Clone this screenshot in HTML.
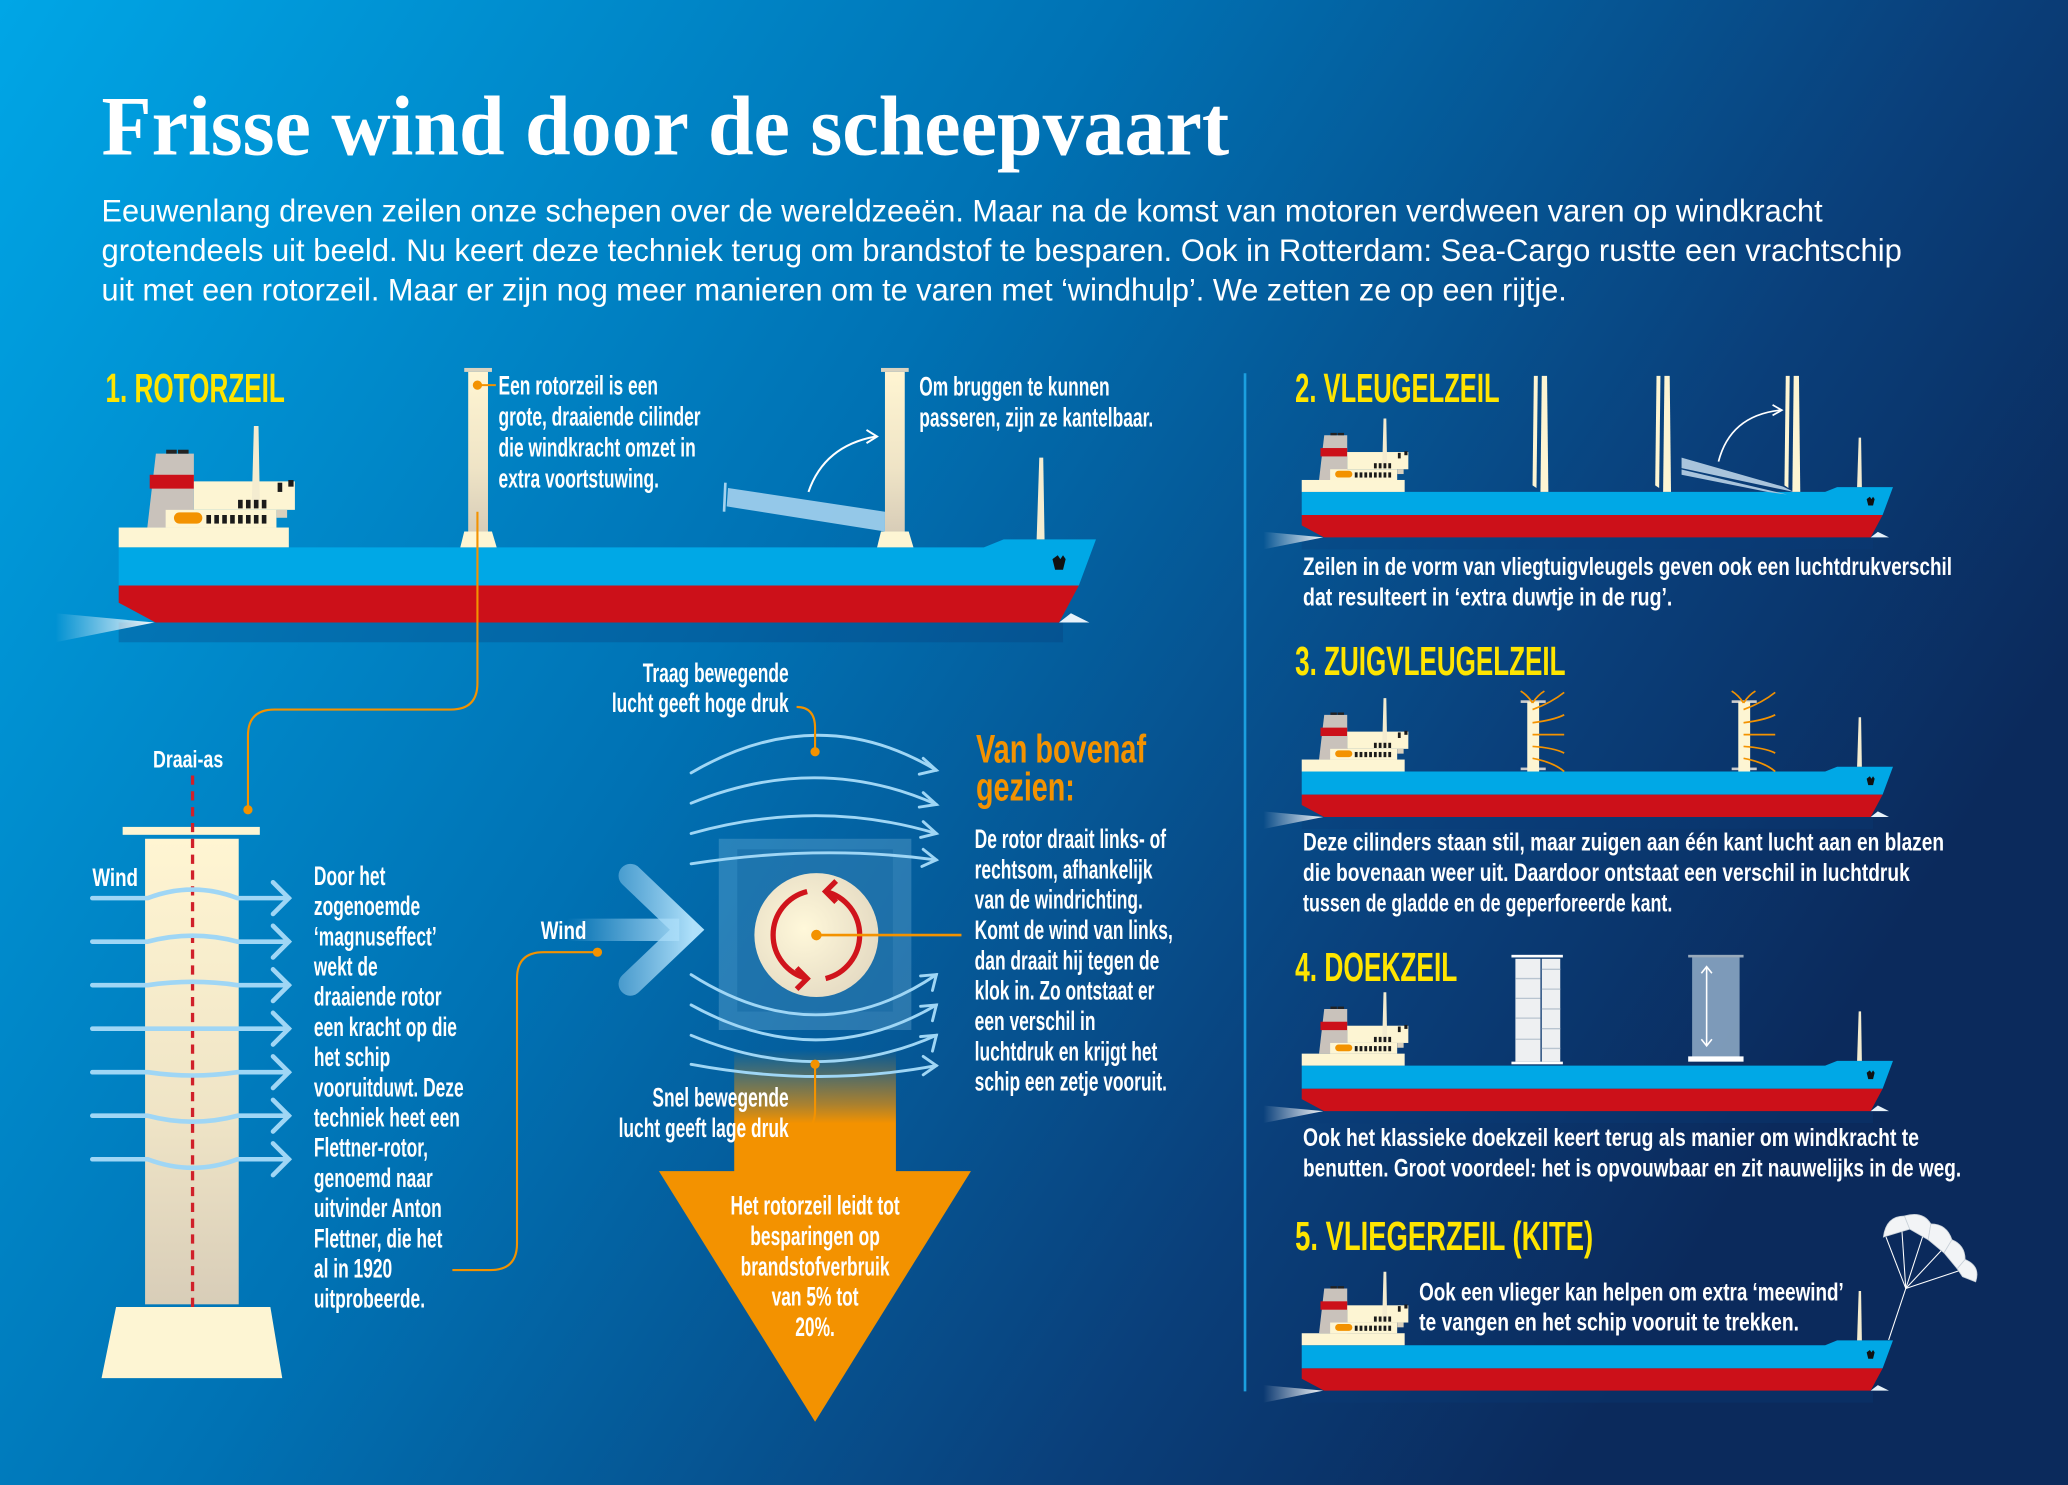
<!DOCTYPE html>
<html><head><meta charset="utf-8"><style>
html,body{margin:0;padding:0;background:#0a4a8a;}
svg{display:block}
text{font-family:"Liberation Sans",sans-serif;fill:#fff}
.b{font-weight:bold}
.y{fill:#ffe500;font-weight:bold}
.o{fill:#f39200;font-weight:bold}
</style></head><body>
<svg width="2068" height="1485" viewBox="0 0 1568 1126" preserveAspectRatio="none" xmlns="http://www.w3.org/2000/svg">
<defs>
<linearGradient id="bg" x1="0" y1="0" x2="1" y2="0.45">
<stop offset="0" stop-color="#00a6e6"/><stop offset="0.45" stop-color="#0072b4"/><stop offset="0.8" stop-color="#0a3f7a"/><stop offset="1" stop-color="#0b2a5c"/>
</linearGradient>
<linearGradient id="cyl" x1="0" y1="0" x2="0" y2="1"><stop offset="0" stop-color="#fff5d2"/><stop offset="0.6" stop-color="#efe4c6"/><stop offset="1" stop-color="#d8cdb8"/></linearGradient>
<linearGradient id="wake" x1="1" y1="0" x2="0" y2="0"><stop offset="0" stop-color="#fff" stop-opacity="0.95"/><stop offset="1" stop-color="#fff" stop-opacity="0"/></linearGradient>
<linearGradient id="arr" x1="0" y1="0" x2="0" y2="1"><stop offset="0" stop-color="#f39200" stop-opacity="0"/><stop offset="0.45" stop-color="#f39200" stop-opacity="0.7"/><stop offset="0.6" stop-color="#f39200"/><stop offset="1" stop-color="#f39200"/></linearGradient>
<linearGradient id="chev" gradientUnits="userSpaceOnUse" x1="430" y1="0" x2="525" y2="0"><stop offset="0" stop-color="#9dd3f3" stop-opacity="0"/><stop offset="0.5" stop-color="#9dd3f3" stop-opacity="0.55"/><stop offset="1" stop-color="#aee0fa"/></linearGradient>
<radialGradient id="disc" cx="0.4" cy="0.45" r="0.6"><stop offset="0" stop-color="#fff8da"/><stop offset="1" stop-color="#e6dcc4"/></radialGradient>
<g id="ship">
<rect x="0" y="57" width="716" height="15" fill="#0a3d78" opacity="0.3"/>
<polygon points="27,57 -48,50 -48,72" fill="url(#wake)"/>
<path d="M0,0 H656 L671,-6 H741 L728,29 H0 Z" fill="#00a8e6"/>
<path d="M0,29 H728 L713,57 H28 L0,42 Z" fill="#cc1019"/>
<path d="M713,57 L722,50 L736,57 Z" fill="#e8f2fa"/>
<path d="M708,9 l4,-3 2,3 2,-3 2,3 -2,8 -6,0 Z" fill="#111"/>
<rect x="0" y="-15" width="129" height="15" fill="#fdf5d3"/>
<polygon points="21.7,-15 28.2,-71 57,-71 57,-15" fill="#c9c2bb"/>
<rect x="23.5" y="-55" width="33.5" height="10.5" fill="#cc1019"/>
<rect x="36" y="-74" width="8" height="3" fill="#222"/><rect x="45" y="-74" width="8" height="3" fill="#222"/>
<rect x="35.6" y="-28.4" width="84" height="13.5" fill="#fdf5d3"/>
<rect x="57" y="-50" width="76.6" height="21.6" fill="#fdf5d3"/>
<rect x="119.7" y="-28.4" width="8" height="6" fill="#d9d0bd"/>
<polygon points="100.8,-30 102.5,-92 106,-92 107.1,-30" fill="#f4ecd0"/>
<rect x="41.9" y="-26.5" width="21.5" height="8.5" rx="4.2" fill="#f39200"/>
<g fill="#1a1a1a">
<rect x="66.5" y="-24.5" width="3.5" height="6.5"/><rect x="72.5" y="-24.5" width="3.5" height="6.5"/><rect x="78.5" y="-24.5" width="3.5" height="6.5"/><rect x="84.5" y="-24.5" width="3.5" height="6.5"/><rect x="90.5" y="-24.5" width="3.5" height="6.5"/><rect x="96.5" y="-24.5" width="3.5" height="6.5"/><rect x="102.5" y="-24.5" width="3.5" height="6.5"/><rect x="108.5" y="-24.5" width="3.5" height="6.5"/>
<rect x="90.5" y="-36" width="3.5" height="6.5"/><rect x="96.5" y="-36" width="3.5" height="6.5"/><rect x="102.5" y="-36" width="3.5" height="6.5"/><rect x="108.5" y="-36" width="3.5" height="6.5"/>
<rect x="120.5" y="-49" width="3.5" height="7"/><rect x="128.6" y="-51" width="4" height="5"/>
</g>
<polygon points="696,-6 698,-68 701,-68 702,-6" fill="#f4ecd0"/>
</g>
</defs>
<rect width="1568" height="1126" fill="url(#bg)"/>

<!-- Title -->
<text x="77" y="117" font-family="Liberation Serif" font-weight="bold" font-size="64" textLength="855" lengthAdjust="spacingAndGlyphs" style="font-family:'Liberation Serif',serif">Frisse wind door de scheepvaart</text>
<g font-size="24">
<text x="77" y="168" textLength="1305" lengthAdjust="spacingAndGlyphs">Eeuwenlang dreven zeilen onze schepen over de wereldzeeën. Maar na de komst van motoren verdween varen op windkracht</text>
<text x="77" y="198" textLength="1365" lengthAdjust="spacingAndGlyphs">grotendeels uit beeld. Nu keert deze techniek terug om brandstof te besparen. Ook in Rotterdam: Sea-Cargo rustte een vrachtschip</text>
<text x="77" y="228" textLength="1111" lengthAdjust="spacingAndGlyphs">uit met een rotorzeil. Maar er zijn nog meer manieren om te varen met ‘windhulp’. We zetten ze op een rijtje.</text>
</g>

<!-- Section 1 -->
<text x="80" y="305" class="y" font-size="31" textLength="136" lengthAdjust="spacingAndGlyphs">1. ROTORZEIL</text>
<use href="#ship" transform="translate(90,415)"/>
<rect x="355" y="282" width="15" height="121" fill="url(#cyl)"/>
<rect x="352" y="279" width="21" height="3" fill="#d8d2c0"/>
<polygon points="352,403 373,403 376.6,415 349,415" fill="#fdf5d3"/>
<rect x="671" y="282" width="15" height="121" fill="url(#cyl)"/>
<rect x="668" y="279" width="21" height="3" fill="#d8d2c0"/>
<polygon points="668,403 689,403 692.6,415 665,415" fill="#fdf5d3"/>
<polygon points="552,370 671,388 671,403 551,384" fill="#a4d2ee" opacity="0.9"/>
<line x1="550" y1="366" x2="549" y2="388" stroke="#a4d2ee" stroke-width="2"/>
<path d="M613,373 Q625,338 664,331" fill="none" stroke="#fff" stroke-width="1.5"/>
<polyline points="657,326 665,331 657,336" fill="none" stroke="#fff" stroke-width="1.5"/>
<circle cx="362" cy="292" r="3.5" fill="#f39200"/><line x1="362" y1="292" x2="376" y2="292" stroke="#f39200" stroke-width="1.5"/>
<g font-size="20" class="b">
<g transform="translate(378,299) scale(0.66,1)"><text x="0" y="0" class="b">Een rotorzeil is een</text><text x="0" y="23.5" class="b">grote, draaiende cilinder</text><text x="0" y="47" class="b">die windkracht omzet in</text><text x="0" y="70.5" class="b">extra voortstuwing.</text></g>
<g transform="translate(697,300) scale(0.66,1)"><text x="0" y="0" class="b">Om bruggen te kunnen</text><text x="0" y="23.5" class="b">passeren, zijn ze kantelbaar.</text></g>
</g>
<path d="M362,388 V518 Q362,538 342,538 H208 Q188,538 188,558 V614" fill="none" stroke="#f39200" stroke-width="1.6"/>
<circle cx="188" cy="614" r="3.5" fill="#f39200"/>

<!-- left rotor detail -->
<rect x="93" y="627" width="104" height="6" fill="#fdf5d3"/>
<rect x="110" y="636" width="71" height="353" fill="url(#cyl)"/>
<polygon points="88,991 205,991 214,1045 77,1045" fill="#fdf5d3"/>
<line x1="146" y1="588" x2="146" y2="995" stroke="#d0202a" stroke-width="2.5" stroke-dasharray="7,5"/>
<text x="116" y="582" font-size="18" class="b" transform="translate(116,0) scale(0.75,1) translate(-116,0)">Draai-as</text>
<text x="70" y="672" font-size="19" class="b" transform="translate(70,0) scale(0.75,1) translate(-70,0)">Wind</text>
<g fill="none" stroke="#9fd6f5" stroke-width="3.5" stroke-linecap="round">
<path d="M70,681 H112 Q146,668 180,681 H219"/><polyline points="207,669 219,681 207,693"/>
<path d="M70,714 H112 Q146,705 180,714 H219"/><polyline points="207,702 219,714 207,726"/>
<path d="M70,747 H112 Q146,742 180,747 H219"/><polyline points="207,735 219,747 207,759"/>
<path d="M70,780 H219"/><polyline points="207,768 219,780 207,792"/>
<path d="M70,813 H112 Q146,818 180,813 H219"/><polyline points="207,801 219,813 207,825"/>
<path d="M70,846 H112 Q146,855 180,846 H219"/><polyline points="207,834 219,846 207,858"/>
<path d="M70,879 H112 Q146,892 180,879 H219"/><polyline points="207,867 219,879 207,891"/>
</g>
<g transform="translate(238,671) scale(0.66,1)" font-size="20">
<text x="0" y="0" class="b">Door het</text><text x="0" y="22.9" class="b">zogenoemde</text><text x="0" y="45.8" class="b">‘magnuseffect’</text><text x="0" y="68.7" class="b">wekt de</text><text x="0" y="91.6" class="b">draaiende rotor</text><text x="0" y="114.5" class="b">een kracht op die</text><text x="0" y="137.4" class="b">het schip</text><text x="0" y="160.3" class="b">vooruitduwt. Deze</text><text x="0" y="183.2" class="b">techniek heet een</text><text x="0" y="206.1" class="b">Flettner-rotor,</text><text x="0" y="229" class="b">genoemd naar</text><text x="0" y="251.9" class="b">uitvinder Anton</text><text x="0" y="274.8" class="b">Flettner, die het</text><text x="0" y="297.7" class="b">al in 1920</text><text x="0" y="320.6" class="b">uitprobeerde.</text>
</g>

<!-- middle diagram -->
<rect x="556.7" y="796" width="122.6" height="93" fill="url(#arr)"/>
<polygon points="499.6,888 736.2,888 618,1078" fill="#f39200"/>
<rect x="545" y="636" width="146" height="145" fill="#8fc7e6" opacity="0.28"/>
<rect x="559" y="644" width="118" height="123" fill="#0a5f9c" opacity="0.35"/>
<circle cx="619" cy="709" r="47" fill="url(#disc)"/>
<g fill="none" stroke="#d0141c" stroke-width="4">
<path d="M612,676 A34,34 0 0 0 612,742"/><polyline points="604,734 612,742 604,750"/>
<path d="M626,742 A34,34 0 0 0 626,676"/><polyline points="634,668 626,676 634,684"/>
</g>
<line x1="619" y1="709" x2="729" y2="709" stroke="#f39200" stroke-width="2"/>
<circle cx="619" cy="709" r="4" fill="#f39200"/>
<g fill="none" stroke="#9fd6f5" stroke-width="2.2" stroke-linecap="round">
<path d="M524,586 Q620,530 710,584"/><polyline points="700,575 710,584 697,587"/>
<path d="M524,609 Q620,570 710,610"/><polyline points="700,601 710,610 697,612"/>
<path d="M524,632 Q620,605 710,632"/><polyline points="700,623 710,632 698,635"/>
<path d="M524,655 Q620,640 710,652"/><polyline points="700,644 710,652 699,657"/>
<path d="M524,739 Q620,800 710,739"/><polyline points="698,740 710,739 707,751"/>
<path d="M524,762 Q620,815 710,762"/><polyline points="698,763 710,762 707,774"/>
<path d="M524,785 Q620,825 710,785"/><polyline points="698,786 710,785 707,797"/>
<path d="M524,807 Q620,825 710,808"/><polyline points="700,801 710,808 700,815"/>
</g>
<line x1="430" y1="705" x2="515" y2="705" stroke="url(#chev)" stroke-width="17"/>
<polyline points="478,664 521,705 478,746" fill="none" stroke="url(#chev)" stroke-width="18" stroke-linecap="round" stroke-linejoin="miter"/>
<text x="410" y="712" font-size="19" class="b" transform="translate(410,0) scale(0.75,1) translate(-410,0)">Wind</text>
<path d="M453,722 H412 Q392,722 392,742 V943 Q392,963 372,963 H343" fill="none" stroke="#f39200" stroke-width="1.6"/>
<circle cx="453" cy="722" r="3.5" fill="#f39200"/>
<path d="M618,570 V552 Q618,536 604,536" fill="none" stroke="#f39200" stroke-width="1.6"/><circle cx="618" cy="570" r="3.5" fill="#f39200"/>
<path d="M618,807 V842 Q618,858 604,858" fill="none" stroke="#f39200" stroke-width="1.6"/><circle cx="618" cy="807" r="3.5" fill="#f39200"/>
<g font-size="20">
<g transform="translate(598,517) scale(0.66,1)"><text x="0" y="0" text-anchor="end" class="b">Traag bewegende</text><text x="0" y="23" text-anchor="end" class="b">lucht geeft hoge druk</text></g>
<g transform="translate(598,839) scale(0.66,1)"><text x="0" y="0" text-anchor="end" class="b">Snel bewegende</text><text x="0" y="23" text-anchor="end" class="b">lucht geeft lage druk</text></g>
<g transform="translate(618,921) scale(0.66,1)"><text x="0" y="0" text-anchor="middle" class="b">Het rotorzeil leidt tot</text><text x="0" y="23" text-anchor="middle" class="b">besparingen op</text><text x="0" y="46" text-anchor="middle" class="b">brandstofverbruik</text><text x="0" y="69" text-anchor="middle" class="b">van 5% tot</text><text x="0" y="92" text-anchor="middle" class="b">20%.</text></g>
<g transform="translate(739,643) scale(0.66,1)"><text x="0" y="0" class="b">De rotor draait links- of</text><text x="0" y="23" class="b">rechtsom, afhankelijk</text><text x="0" y="46" class="b">van de windrichting.</text><text x="0" y="69" class="b">Komt de wind van links,</text><text x="0" y="92" class="b">dan draait hij tegen de</text><text x="0" y="115" class="b">klok in. Zo ontstaat er</text><text x="0" y="138" class="b">een verschil in</text><text x="0" y="161" class="b">luchtdruk en krijgt het</text><text x="0" y="184" class="b">schip een zetje vooruit.</text></g>
</g>
<text x="740" y="578" class="o" font-size="30" textLength="129" lengthAdjust="spacingAndGlyphs">Van bovenaf</text>
<text x="740" y="607" class="o" font-size="30" textLength="75" lengthAdjust="spacingAndGlyphs">gezien:</text>

<line x1="944" y1="283" x2="944" y2="1055" stroke="#1ba0e0" stroke-width="2"/>

<!-- Section 2 -->
<text x="982" y="305" class="y" font-size="31" textLength="155" lengthAdjust="spacingAndGlyphs">2. VLEUGELZEIL</text>
<use href="#ship" transform="translate(987,373) scale(0.605)"/>
<g fill="#fdf5d3">
<polygon points="1163,285 1166,285 1165,370 1162,368"/><polygon points="1169,285 1173,285 1174,373 1168,373"/>
<polygon points="1256,285 1259,285 1258,370 1255,368"/><polygon points="1262,285 1266,285 1267,373 1261,373"/>
<polygon points="1354,285 1357,285 1356,370 1353,368"/><polygon points="1360,285 1364,285 1365,373 1359,373"/>
</g>
<polygon points="1275,347 1352,369 1360,373 1275,355" fill="#a9c4dc"/>
<polygon points="1275,356 1355,375 1340,373 1275,360" fill="#a9c4dc"/>
<path d="M1303,350 Q1312,315 1350,311" fill="none" stroke="#fff" stroke-width="1.3"/>
<polyline points="1344,307 1351,311 1344,315" fill="none" stroke="#fff" stroke-width="1.3"/>
<text x="988" y="436" font-size="19" class="b" textLength="492" lengthAdjust="spacingAndGlyphs">Zeilen in de vorm van vliegtuigvleugels geven ook een luchtdrukverschil</text>
<text x="988" y="459" font-size="19" class="b" textLength="280" lengthAdjust="spacingAndGlyphs">dat resulteert in ‘extra duwtje in de rug’.</text>

<!-- Section 3 -->
<text x="982" y="512" class="y" font-size="31" textLength="205" lengthAdjust="spacingAndGlyphs">3. ZUIGVLEUGELZEIL</text>
<use href="#ship" transform="translate(987,585) scale(0.605)"/>
<g>
<rect x="1153" y="531" width="19" height="2" fill="#ccc"/><rect x="1153" y="582" width="19" height="2" fill="#ccc"/>
<rect x="1158" y="532" width="9" height="53" fill="#fdf5d3"/>
<rect x="1313" y="531" width="19" height="2" fill="#ccc"/><rect x="1313" y="582" width="19" height="2" fill="#ccc"/>
<rect x="1318" y="532" width="9" height="53" fill="#fdf5d3"/>
<g fill="none" stroke="#f39200" stroke-width="1.3">
<path d="M1162,538 Q1176,533 1186,525"/><path d="M1162,548 Q1178,546 1186,542"/><path d="M1162,557 H1186"/><path d="M1162,566 Q1178,567 1186,571"/><path d="M1162,575 Q1178,578 1186,585"/>
<path d="M1162,533 Q1158,527 1153,524"/><path d="M1162,533 Q1166,527 1171,524"/>
<path d="M1322,538 Q1336,533 1346,525"/><path d="M1322,548 Q1338,546 1346,542"/><path d="M1322,557 H1346"/><path d="M1322,566 Q1338,567 1346,571"/><path d="M1322,575 Q1338,578 1346,585"/>
<path d="M1322,533 Q1318,527 1313,524"/><path d="M1322,533 Q1326,527 1331,524"/>
</g>
</g>
<text x="988" y="645" font-size="19" class="b" textLength="486" lengthAdjust="spacingAndGlyphs">Deze cilinders staan stil, maar zuigen aan één kant lucht aan en blazen</text>
<text x="988" y="668" font-size="19" class="b" textLength="460" lengthAdjust="spacingAndGlyphs">die bovenaan weer uit. Daardoor ontstaat een verschil in luchtdruk</text>
<text x="988" y="691" font-size="19" class="b" textLength="280" lengthAdjust="spacingAndGlyphs">tussen de gladde en de geperforeerde kant.</text>

<!-- Section 4 -->
<text x="982" y="744" class="y" font-size="31" textLength="123" lengthAdjust="spacingAndGlyphs">4. DOEKZEIL</text>
<use href="#ship" transform="translate(987,808) scale(0.605)"/>
<g fill="#eef0f2">
<rect x="1149" y="727" width="19" height="78"/><rect x="1169" y="727" width="14" height="78"/>
</g>
<g stroke="#b8c4d0" stroke-width="1"><line x1="1149" y1="742" x2="1168" y2="742"/><line x1="1149" y1="757" x2="1168" y2="757"/><line x1="1149" y1="772" x2="1168" y2="772"/><line x1="1149" y1="788" x2="1168" y2="788"/><line x1="1169" y1="735" x2="1183" y2="735"/><line x1="1169" y1="750" x2="1183" y2="750"/><line x1="1169" y1="765" x2="1183" y2="765"/><line x1="1169" y1="780" x2="1183" y2="780"/><line x1="1169" y1="795" x2="1183" y2="795"/></g>
<rect x="1146" y="724" width="39" height="2" fill="#fff"/><rect x="1146" y="805" width="39" height="2" fill="#fff"/>
<rect x="1283" y="726" width="36" height="78" fill="#8aa6c2" opacity="0.9"/>
<rect x="1280" y="724" width="42" height="2" fill="#9ab"/><rect x="1280" y="801" width="42" height="4" fill="#fff"/>
<line x1="1294" y1="733" x2="1294" y2="793" stroke="#fff" stroke-width="1.2"/>
<polyline points="1290,738 1294,733 1298,738" fill="none" stroke="#fff" stroke-width="1.2"/><polyline points="1290,788 1294,793 1298,788" fill="none" stroke="#fff" stroke-width="1.2"/>
<text x="988" y="869" font-size="19" class="b" textLength="467" lengthAdjust="spacingAndGlyphs">Ook het klassieke doekzeil keert terug als manier om windkracht te</text>
<text x="988" y="892" font-size="19" class="b" textLength="499" lengthAdjust="spacingAndGlyphs">benutten. Groot voordeel: het is opvouwbaar en zit nauwelijks in de weg.</text>

<!-- Section 5 -->
<text x="982" y="948" class="y" font-size="31" textLength="226" lengthAdjust="spacingAndGlyphs">5. VLIEGERZEIL (KITE)</text>
<use href="#ship" transform="translate(987,1020) scale(0.605)"/>
<g stroke="#fff" stroke-width="0.8" fill="none">
<line x1="1445" y1="977" x2="1432" y2="1016"/>
<line x1="1445" y1="977" x2="1430" y2="938"/><line x1="1445" y1="977" x2="1442" y2="932"/><line x1="1445" y1="977" x2="1458" y2="937"/><line x1="1445" y1="977" x2="1474" y2="946"/><line x1="1445" y1="977" x2="1490" y2="962"/>
</g>
<g fill="#f2f4f6" stroke="#c8d0d8" stroke-width="0.6">
<path d="M1428,938 Q1430,922 1444,922 L1448,932 Z"/>
<path d="M1444,922 Q1458,918 1464,928 L1462,940 L1448,932 Z"/>
<path d="M1464,928 Q1476,928 1480,940 L1474,950 L1462,940 Z"/>
<path d="M1480,940 Q1490,944 1490,955 L1484,962 L1474,950 Z"/>
<path d="M1490,955 Q1502,960 1498,972 L1488,968 L1484,962 Z"/>
</g>
<text x="1076" y="986" font-size="19" class="b" textLength="322" lengthAdjust="spacingAndGlyphs">Ook een vlieger kan helpen om extra ‘meewind’</text>
<text x="1076" y="1009" font-size="19" class="b" textLength="288" lengthAdjust="spacingAndGlyphs">te vangen en het schip vooruit te trekken.</text>
</svg>
</body></html>
